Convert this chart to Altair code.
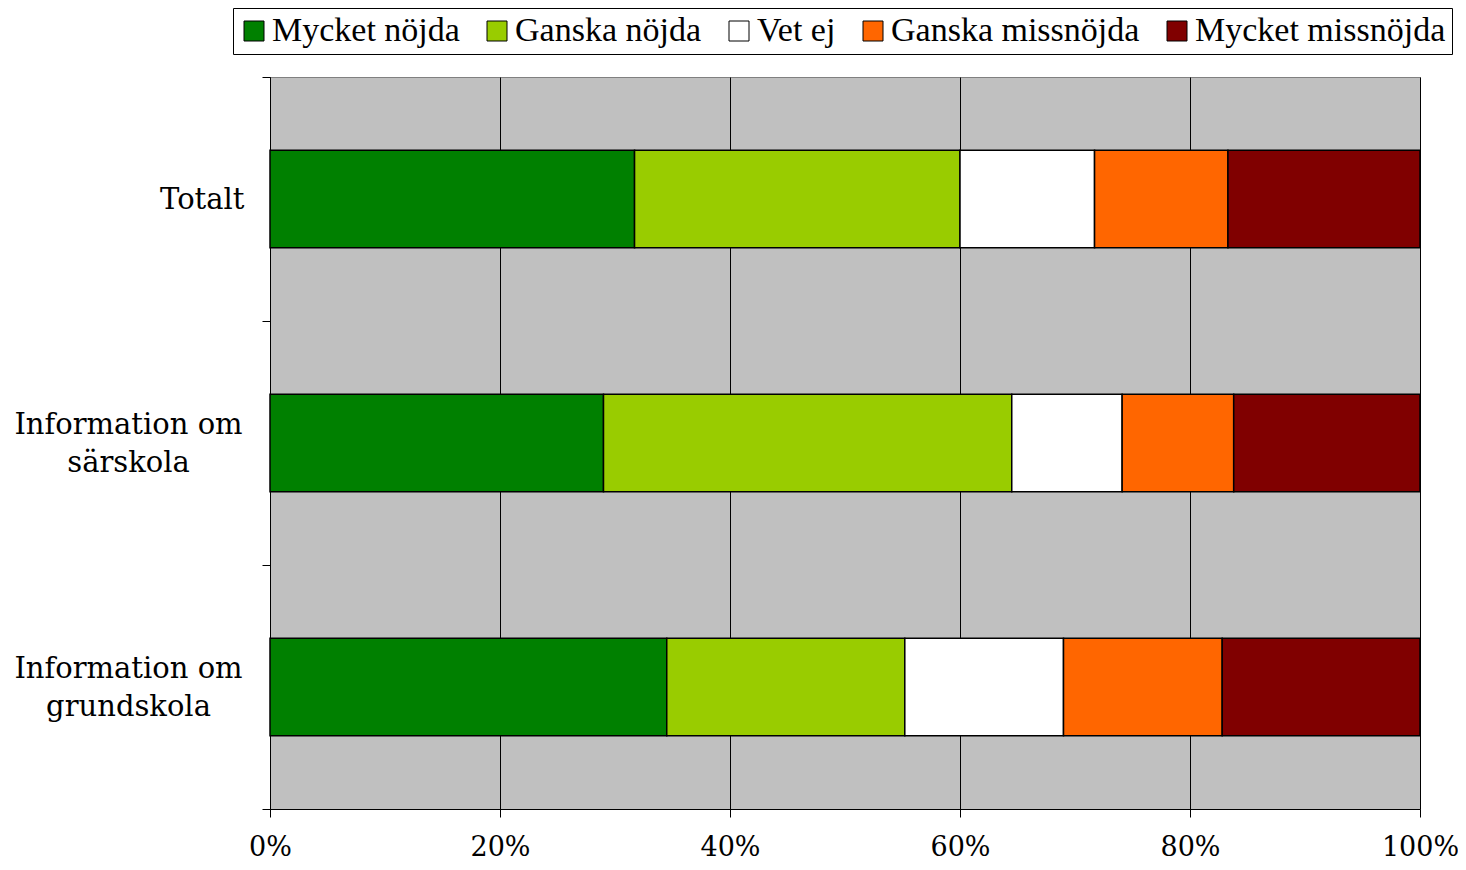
import altair as alt
import pandas as pd

categories = ["Totalt", "Information om särskola", "Information om grundskola"]
series = ["Mycket nöjda", "Ganska nöjda", "Vet ej", "Ganska missnöjda", "Mycket missnöjda"]
colors = ["#008000", "#99CC00", "#FFFFFF", "#FF6600", "#800000"]

mycket_nojda = [31.7, 29.0, 34.5]
ganska_nojda = [28.3, 35.5, 20.7]
vet_ej = [11.7, 9.6, 13.8]
ganska_missnojda = [11.6, 9.7, 13.8]
mycket_missnojda = [16.7, 16.2, 17.2]

values = [mycket_nojda, ganska_nojda, vet_ej, ganska_missnojda, mycket_missnojda]
rows = []
for si, s in enumerate(series):
    for ci, c in enumerate(categories):
        rows.append({"category": c, "series": s, "value": values[si][ci], "idx": si})
df = pd.DataFrame(rows)

serif = "DejaVu Serif"

chart = alt.Chart(df).mark_bar(
    stroke="black", strokeWidth=1.5, height=alt.RelativeBandSize(0.4)
).encode(
    y=alt.Y(
        "category:N",
        sort=categories,
        title=None,
        scale=alt.Scale(paddingInner=0, paddingOuter=0),
        axis=alt.Axis(
            tickBand="extent",
            tickSize=8,
            labelFont=serif,
            labelFontSize=29,
            labelColor="black",
            labelLineHeight=38,
            labelLimit=400,
            labelExpr="!isValid(datum.value) ? '' : (datum.value == 'Totalt' ? 'Totalt' : split(replace(datum.value, ' om ', ' om|'), '|'))",
            labelAlign={"condition": {"test": "datum.value == 'Totalt'", "value": "right"}, "value": "center"},
            labelPadding={"condition": {"test": "datum.value == 'Totalt'", "value": 18}, "value": 134},
            labelOffset={"condition": {"test": "datum.value == 'Totalt'", "value": 0}, "value": -19},
            grid=False,
        ),
    ),
    x=alt.X(
        "value:Q",
        stack="normalize",
        title=None,
        scale=alt.Scale(domain=[0, 1], nice=False),
        axis=alt.Axis(
            format=".0%",
            values=[0, 0.2, 0.4, 0.6, 0.8, 1.0],
            grid=True,
            gridColor="black",
            gridWidth=1,
            gridOpacity=1,
            tickSize=8,
            labelFont=serif,
            labelFontSize=27,
            labelColor="black",
            labelPadding=17,
            labelFlush=False,
        ),
    ),
    color=alt.Color(
        "series:N",
        sort=series,
        scale=alt.Scale(domain=series, range=colors),
        legend=alt.Legend(
            title=None,
            orient="none",
            legendX=-37,
            legendY=-69,
            direction="horizontal",
            symbolType="square",
            symbolSize=400,
            symbolStrokeColor="black",
            symbolStrokeWidth=1,
            symbolOffset=-2,
            labelFont="Liberation Serif",
            labelFontSize=34,
            labelColor="black",
            labelOffset=1,
            columnPadding=22,
            padding=6,
            strokeColor="black",
            fillColor="white",
            labelLimit=400,
        ),
    ),
    order=alt.Order("idx:Q"),
).properties(
    width=1150,
    height=732,
    autosize=alt.AutoSizeParams(type="none"),
    padding={"left": 262, "top": 69, "right": 38, "bottom": 53},
).configure_view(
    fill="#C0C0C0", stroke="#808080", strokeWidth=1
).configure_axis(
    domainColor="black", tickColor="black", domainWidth=1, tickWidth=1
)

chart.save("out.html", embed_options={"renderer": "svg", "actions": False})
